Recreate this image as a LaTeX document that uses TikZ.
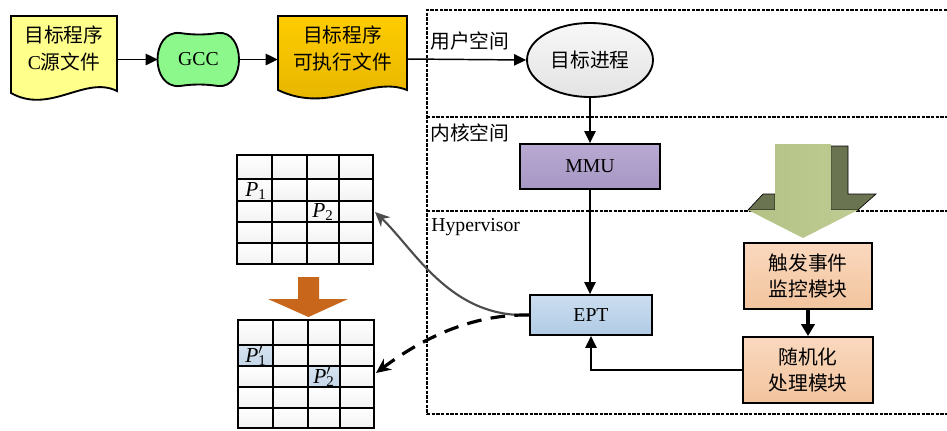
\documentclass[tikz,border=0pt]{standalone}
\usepackage{fontspec}
\setmainfont{Liberation Serif}
\newfontfamily\cjkf{Noto Sans CJK SC}
\usetikzlibrary{arrows.meta,shapes.geometric}
\definecolor{docyellow}{RGB}{255,255,140}
\definecolor{docgoldT}{RGB}{255,204,0}
\definecolor{docgoldB}{RGB}{226,178,0}
\definecolor{gccgreen}{RGB}{140,248,140}
\definecolor{mmuT}{RGB}{184,170,210}
\definecolor{mmuB}{RGB}{166,150,196}
\definecolor{eptT}{RGB}{204,222,240}
\definecolor{eptB}{RGB}{176,203,228}
\definecolor{boxT}{RGB}{250,216,190}
\definecolor{boxB}{RGB}{242,196,158}
\definecolor{olive}{RGB}{107,116,80}
\definecolor{lgreen}{RGB}{190,203,146}
\definecolor{lgreenD}{RGB}{180,194,134}
\definecolor{rust}{RGB}{200,102,28}
\definecolor{cellblueT}{RGB}{216,228,240}
\definecolor{cellblueB}{RGB}{196,214,232}
\newcommand{\PlainP}[1]{\textit{P}\textsubscript{#1}}
\newcommand{\PrimeP}[1]{\textit{P}\rlap{$'$}\textsubscript{#1}}
\begin{document}
\begin{tikzpicture}[x=0.75pt,y=-0.75pt,
  txt/.style={font=\fontsize{14.8}{20}\selectfont, inner sep=0pt, align=center},
  shapeline/.style={draw=black, line width=1.4pt},
  boxnode/.style={shapeline, rectangle, txt},
  region/.style={draw=black, line width=2.2pt, dash pattern=on 2.6pt off 0.9pt},
  arr/.style={line width=1.1pt, -{Triangle[length=9pt,width=8.5pt]}},
  thickarr/.style={line width=2.4pt, -{Triangle[length=9pt,width=10pt]}},
  curvarr/.style={draw=black!70, line width=1.6pt, -{Stealth[length=11pt,width=10pt]}},
  dasharr/.style={line width=2.4pt, dash pattern=on 11pt off 7pt, -{Stealth[length=11pt,width=10pt]}},
  gridline/.style={draw=black, line width=1.4pt}
]
\useasboundingbox (0,0) rectangle (947,430);

% ---------- document shapes ----------
\draw[shapeline, fill=docyellow] (11,16) -- (117,16) -- (117,91) .. controls (85,75) and (50,115) .. (11,93) -- cycle;
\node[inner sep=0pt, minimum width=79.5pt, minimum height=64.5pt] (d1) at (64,59) {};
\node[txt] (d1t) at (64,48.5) {{\cjkf 目标程序}\\C{\cjkf 源文件}};

\shade[top color=docgoldT, bottom color=docgoldB] (278,16) -- (407,16) -- (407,90) .. controls (370,75) and (330,115) .. (278,90) -- cycle;
\draw[shapeline] (278,16) -- (407,16) -- (407,90) .. controls (370,75) and (330,115) .. (278,90) -- cycle;
\node[inner sep=0pt, minimum width=96.75pt, minimum height=64.5pt] (d2) at (342.5,59) {};
\node[txt] (d2t) at (342.5,48.5) {{\cjkf 目标程序}\\{\cjkf 可执行文件}};

% ---------- GCC ----------
\draw[shapeline, fill=gccgreen] (180,33) .. controls (193,35) and (205,35) .. (218,33)
  .. controls (246,30) and (246,89) .. (218,86)
  .. controls (205,84) and (193,84) .. (180,86)
  .. controls (150,89) and (150,30) .. (180,33) -- cycle;
\node[txt, minimum width=60.75pt, minimum height=39.75pt] (gcc) at (198.5,59.5) {GCC};

% ---------- regions ----------
\draw[region] (947,10) -- (427,10) -- (427,414) -- (947,414);
\draw[region] (427,117) -- (947,117);
\draw[region] (427,211) -- (947,211);
\node[txt, anchor=west] (lu) at (430,41) {\cjkf 用户空间};
\node[txt, anchor=west] (lk) at (430,133) {\cjkf 内核空间};
\node[txt, anchor=west] (lh) at (431,227) {Hypervisor};

% ---------- main nodes ----------
\node[ellipse, shapeline, top color=gray!6, bottom color=gray!22, txt, minimum width=94.5pt, minimum height=55.5pt] (proc) at (590,60) {\cjkf 目标进程};
\node[boxnode, top color=mmuT, bottom color=mmuB, minimum width=105pt, minimum height=33.75pt] (mmu) at (590,166.5) {MMU};
\node[boxnode, top color=eptT, bottom color=eptB, minimum width=91.5pt, minimum height=30pt] (ept) at (591,315) {EPT};
\node[boxnode, top color=boxT, bottom color=boxB, minimum width=96pt, minimum height=49.5pt] (mon) at (808,276) {{\cjkf 触发事件}\\{\cjkf 监控模块}};
\node[boxnode, top color=boxT, bottom color=boxB, minimum width=97.5pt, minimum height=49.5pt] (rnd) at (808,370) {{\cjkf 随机化}\\{\cjkf 处理模块}};

% ---------- 3D arrow ----------
\draw[fill=olive, draw=black, line width=0.5pt] (748,210) -- (763,194) -- (775,194) -- (775,210) -- cycle;
\draw[fill=olive, draw=black, line width=0.5pt] (831,146) -- (848,146) -- (848,194) -- (876,194) -- (858,210) -- (831,210) -- cycle;
\shade[left color=lgreenD, right color=lgreen] (775,144) -- (831,144) -- (831,210) -- (858,210) -- (803,238) -- (748,210) -- (775,210) -- cycle;

% ---------- connectors ----------
\draw[arr] (d1.east |- gcc.west) -- (gcc.west);
\draw[arr] (gcc.east) -- (d2.west |- gcc.east);
\draw[arr] (d2.east) -- (proc.west);
\draw[arr] (proc.south) -- (mmu.north);
\draw[arr] (mmu.south) -- (mmu.south |- ept.north);
\draw[thickarr] (mon.south) -- (rnd.north);
\draw[arr] (rnd.west) -| (ept.south);

% ---------- grids ----------
\foreach \xa/\xb in {237/272,272/307,307/339,339/373}
  \foreach \ya/\yb in {155/179,179/201,201/222,222/243,243/264}
    \shade[top color=white, bottom color=gray!10] (\xa,\ya) rectangle (\xb,\yb);
\foreach \xa/\xb in {238/273,273/308,308/340,340/374}
  \foreach \ya/\yb in {320/345,345/366,366/387,387/408,408/428}
    \shade[top color=white, bottom color=gray!10] (\xa,\ya) rectangle (\xb,\yb);
\shade[top color=cellblueT, bottom color=cellblueB] (238,345) rectangle (273,366);
\shade[top color=cellblueT, bottom color=cellblueB] (308,366) rectangle (340,387);

\draw[gridline] (237,155) rectangle (373,264);
\foreach \x in {272,307,339} \draw[gridline] (\x,155) -- (\x,264);
\foreach \y in {179,201,222,243} \draw[gridline] (237,\y) -- (373,\y);
\draw[gridline] (238,320) rectangle (374,428);
\foreach \x in {273,308,340} \draw[gridline] (\x,320) -- (\x,428);
\foreach \y in {345,366,387,408} \draw[gridline] (238,\y) -- (374,\y);

\node[inner sep=0pt, minimum width=102pt, minimum height=81.75pt] (g1) at (305,209.5) {};
\node[inner sep=0pt, minimum width=102pt, minimum height=81pt] (g2) at (306,374) {};

\node[txt, font=\fontsize{16}{20}\selectfont] (p1) at (256,191) {\PlainP{1}};
\node[txt, font=\fontsize{16}{20}\selectfont] (p2) at (323,212) {\PlainP{2}};
\node[txt, font=\fontsize{16}{20}\selectfont] (p1b) at (256,356) {\PrimeP{1}};
\node[txt, font=\fontsize{16}{20}\selectfont] (p2b) at (324,377) {\PrimeP{2}};

% orange arrow
\fill[rust] (298,277) -- (319,277) -- (319,299) -- (348,299) -- (308.5,317) -- (268,299) -- (298,299) -- cycle;

% curved connectors
\coordinate (g1in) at (375,212);
\coordinate (g2in) at (376,373);
\draw[curvarr] (ept.west) .. controls (450,318) and (415,250) .. (g1in);
\draw[dasharr] (ept.west) .. controls (470,314) and (420,340) .. (g2in);
\end{tikzpicture}
\end{document}
